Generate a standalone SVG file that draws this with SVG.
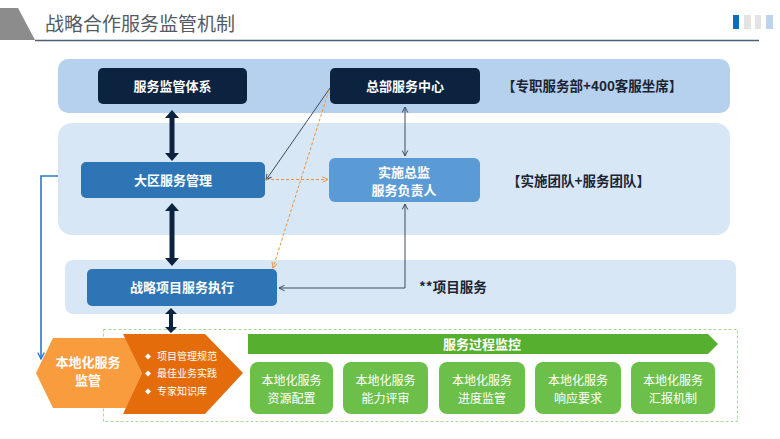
<svg xmlns="http://www.w3.org/2000/svg" width="780" height="439" viewBox="0 0 780 439">
<defs>
<style>
text{font-family:"Noto Sans CJK SC","Noto Sans",sans-serif;}
.w{fill:#fff;font-weight:bold;font-size:13px;text-anchor:middle;}
.k{fill:#1b2433;font-weight:bold;font-size:13.5px;}
.g{fill:#fff;font-size:12px;text-anchor:middle;}
.b{fill:#fff;font-size:10px;}
.navy{fill:#0c2340;}
.mid{fill:#2e75b6;}
.thin{stroke:#3d4a5c;stroke-width:1;fill:none;}
.od{stroke:#f0913a;stroke-width:1;stroke-dasharray:3 2;fill:none;}
.gb{fill:#6cc04a;}
</style>
<marker id="ah" viewBox="0 0 10 10" refX="9" refY="5" markerWidth="7" markerHeight="7" orient="auto-start-reverse" markerUnits="userSpaceOnUse"><path d="M1,1 L9,5 L1,9" fill="none" stroke="#3d4a5c" stroke-width="1.4"/></marker>
<marker id="ao" viewBox="0 0 10 10" refX="9" refY="5" markerWidth="7" markerHeight="7" orient="auto" markerUnits="userSpaceOnUse"><path d="M1,1 L9,5 L1,9" fill="none" stroke="#f0913a" stroke-width="1.4"/></marker>
<marker id="ab" viewBox="0 0 10 10" refX="9" refY="5" markerWidth="8" markerHeight="8" orient="auto" markerUnits="userSpaceOnUse"><path d="M1,1 L9,5 L1,9" fill="none" stroke="#2e75d0" stroke-width="1.6"/></marker>
</defs>

<!-- header -->
<g id="header">
<polygon points="0,8 18,8 35,40 0,40" fill="#8c8c8c"/>
<text x="45" y="31" font-size="19" fill="#555b63">战略合作服务监管机制</text>
<line x1="35" y1="40.5" x2="759" y2="40.5" stroke="#4d5f72" stroke-width="1.5"/>
<rect x="733" y="15" width="6" height="14" fill="#0a6ebd"/>
<rect x="744" y="15" width="7" height="14" fill="#e3e3e3"/>
<rect x="755" y="15" width="6" height="14" fill="#e3e3e3"/>
<rect x="766" y="15" width="7" height="14" fill="#bcd5ee"/>
</g>

<!-- bands -->
<g id="bands">
<rect x="58" y="59" width="672" height="54" rx="10" fill="#b6d1ed"/>
<rect x="58" y="123" width="672" height="112" rx="14" fill="#d8e7f6"/>
<rect x="65" y="260" width="671" height="54" rx="8" fill="#d8e7f6"/>
<rect x="103.5" y="329.5" width="634" height="92" fill="none" stroke="#8fd07a" stroke-width="0.8" stroke-dasharray="3 2"/>
</g>

<g id="n-jgtx">
<rect class="navy" x="98" y="68" width="149" height="36" rx="5"/>
<text class="w" x="172.5" y="91">服务监管体系</text>
</g>
<g id="n-zbfw">
<rect class="navy" x="330" y="68" width="150" height="36" rx="5"/>
<text class="w" x="405" y="91">总部服务中心</text>
</g>
<g id="t-zzfw">
<text class="k" x="502" y="91">【专职服务部+400客服坐席】</text>
</g>
<g id="n-dqfw">
<rect class="mid" x="81" y="162" width="184" height="36" rx="5"/>
<text class="w" x="173" y="185">大区服务管理</text>
</g>
<g id="n-sszj">
<rect x="329" y="158" width="151" height="44" rx="6" fill="#5b9bd5"/>
<text class="w" x="404" y="177">实施总监</text>
<text class="w" x="404" y="195">服务负责人</text>
</g>
<g id="t-sstd">
<text class="k" x="507" y="186">【实施团队+服务团队】</text>
</g>
<g id="n-zlxm">
<rect class="mid" x="87" y="269" width="190" height="37" rx="5"/>
<text class="w" x="182" y="292">战略项目服务执行</text>
</g>
<g id="t-xmfw">
<text class="k" x="419" y="292">**项目服务</text>
</g>

<!-- bottom -->
<g id="n-bdh">
<polygon points="53,338 126,338 142,373 126,408 53,408 36,373" fill="#f89c3e"/>
<text class="w" x="88" y="367" font-size="11">本地化服务</text>
<text class="w" x="88" y="384.5" font-size="11">监管</text>
</g>
<g id="n-gf">
<polygon points="123,334 205,334 243,373 205,414 123,414 142,373" fill="#e46c0a"/>
<path d="M148,353.5 l3,3 l-3,3 l-3,-3z M148,370.5 l3,3 l-3,3 l-3,-3z M148,388.5 l3,3 l-3,3 l-3,-3z" fill="#fff"/>
<text class="b" x="157" y="360">项目管理规范</text>
<text class="b" x="157" y="377">最佳业务实践</text>
<text class="b" x="157" y="395">专家知识库</text>
</g>
<g id="n-jk">
<polygon points="248,334 708,334 718,344 708,354 248,354" fill="#56af2e"/>
<text class="w" x="482" y="348.5" font-size="12">服务过程监控</text>
</g>
<g id="n-g1"><rect class="gb" x="250" y="362" width="83" height="52" rx="8"/><text class="g" x="291.5" y="385">本地化服务</text><text class="g" x="291.5" y="403">资源配置</text></g>
<g id="n-g2"><rect class="gb" x="343" y="362" width="85" height="52" rx="8"/><text class="g" x="385.5" y="385">本地化服务</text><text class="g" x="385.5" y="403">能力评审</text></g>
<g id="n-g3"><rect class="gb" x="439" y="362" width="86" height="52" rx="8"/><text class="g" x="482" y="385">本地化服务</text><text class="g" x="482" y="403">进度监管</text></g>
<g id="n-g4"><rect class="gb" x="535" y="362" width="86" height="52" rx="8"/><text class="g" x="578" y="385">本地化服务</text><text class="g" x="578" y="403">响应要求</text></g>
<g id="n-g5"><rect class="gb" x="631" y="362" width="84" height="52" rx="8"/><text class="g" x="673" y="385">本地化服务</text><text class="g" x="673" y="403">汇报机制</text></g>

<!-- connectors -->
<g id="connectors">
<path class="navy" d="M172,110 l-7,8 h4.5 v35 h-4.5 l7,8 l7,-8 h-4.5 v-35 h4.5z"/>
<path class="navy" d="M172,203 l-7,8 h4.5 v47 h-4.5 l7,8 l7,-8 h-4.5 v-47 h4.5z"/>
<path class="navy" d="M171,308 l-6,6 h4 v13 h-4 l6,6 l6,-6 h-4 v-13 h4z"/>
<line class="thin" x1="405" y1="107" x2="405" y2="156" marker-start="url(#ah)" marker-end="url(#ah)"/>
<line class="thin" x1="330" y1="88" x2="266" y2="180" marker-end="url(#ah)"/>
<line class="od" x1="266" y1="179.5" x2="328" y2="179.5" marker-end="url(#ao)"/>
<line class="od" x1="329" y1="90" x2="273" y2="268" marker-end="url(#ao)"/>
<polyline class="thin" points="405,204 405,288 279,288" marker-start="url(#ah)" marker-end="url(#ah)"/>
<polyline points="58,176 41,176 41,359" fill="none" stroke="#2e75d0" stroke-width="1.6" marker-end="url(#ab)"/>
</g>
</svg>
